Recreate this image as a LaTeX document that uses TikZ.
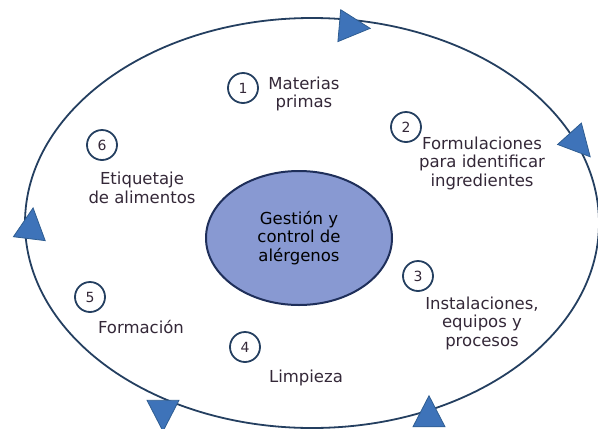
\documentclass[tikz,border=0pt]{standalone}
\usepackage{fontspec}
\setmainfont{DejaVu Sans}
\usetikzlibrary{shapes.geometric}

\definecolor{ringline}{RGB}{36,63,96}
\definecolor{tipblue}{RGB}{62,115,185}
\definecolor{tipedge}{RGB}{47,93,145}
\definecolor{corefill}{RGB}{136,153,210}
\definecolor{coreline}{RGB}{31,47,90}
\definecolor{textcol}{RGB}{52,40,56}

\begin{document}
\begin{tikzpicture}[x=1pt,y=-1pt,
        num node/.style={circle,draw=ringline,line width=1.8pt,minimum size=30pt,inner sep=0pt,
          font=\fontsize{14}{14}\selectfont,text=textcol},
        label node/.style={align=center,font=\fontsize{16.5}{18.5}\selectfont,text=textcol},
        tip node/.style={isosceles triangle,isosceles triangle stretches,minimum width=32pt,
          minimum height=31pt,inner sep=0pt,fill=tipblue,draw=tipedge,line width=0.8pt}]

        \useasboundingbox (0,0) rectangle (598,429);
        \clip (0,0) rectangle (598,429);

        % outer cycle
        \draw[ringline,line width=1.8pt] (312,223) ellipse [x radius=287, y radius=205];

        % arrow heads on the cycle
        \node[tip node,rotate=-5] (a1) at (349,26.5) {};
        \node[tip node,rotate=-48] (a2) at (576,141) {};
        \node[tip node,rotate=90] (a3) at (429,417) {};
        \node[tip node,rotate=-90] (a4) at (163,410) {};
        \node[tip node,rotate=83] (a5) at (30.5,229) {};

        % centre
        \node[ellipse,fill=corefill,draw=coreline,line width=2pt,minimum width=186pt,minimum height=134pt,
          label node,text=black] (core) at (299,238) {Gestión y\\control de\\alérgenos};

        % steps
        \node[num node] (1) at (243,88) {1};
        \node[num node] (2) at (406,127) {2};
        \node[num node] (3) at (418,276) {3};
        \node[num node] (4) at (245,347) {4};
        \node[num node] (5) at (90,297) {5};
        \node[num node] (6) at (102,145) {6};

        \node[label node] (m1) at (304,94) {Materias\\primas};
        \node[label node] (m2) at (482,163) {Formulaciones\\para identificar\\ingredientes};
        \node[label node] (m3) at (482,323) {Instalaciones,\\equipos y\\procesos};
        \node[label node] (m4) at (306,378) {Limpieza};
        \node[label node] (m5) at (141,327) {Formación};
        \node[label node] (m6) at (142,188) {Etiquetaje\\de alimentos};
      \end{tikzpicture}
\end{document}
